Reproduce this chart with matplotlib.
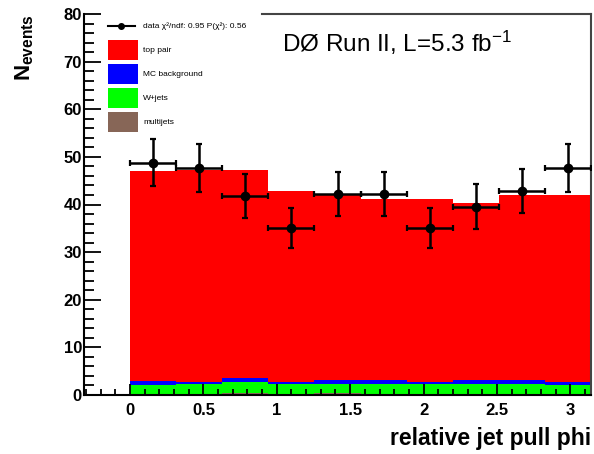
import numpy as np
import matplotlib
matplotlib.use("Agg")
import matplotlib.pyplot as plt
from matplotlib.ticker import MultipleLocator, FormatStrFormatter
from matplotlib.patches import Rectangle
from matplotlib.lines import Line2D

plt.rcParams['font.family'] = ['Liberation Sans', 'DejaVu Sans']
plt.rcParams['mathtext.fontset'] = 'custom'
plt.rcParams['mathtext.rm'] = 'Liberation Sans'
plt.rcParams['mathtext.bf'] = 'Liberation Sans:bold'
plt.rcParams['mathtext.it'] = 'Liberation Sans:italic'

# histogram binning: 10 bins in [0, pi]
n_bins = 10
x_lo, x_hi = 0.0, np.pi

# stacked MC (bottom to top)
multijets = [0.0, 0.0, 0.35, 0.0, 0.35, 0.0, 0.0, 0.0, 0.0, 0.0]
wjets = [2.0, 2.4, 2.45, 2.4, 2.05, 2.4, 2.4, 2.4, 2.4, 2.0]
mc_bkg = [0.85, 0.4, 0.85, 0.4, 0.85, 0.85, 0.4, 0.85, 0.85, 0.7]
top_pair = [44.15, 44.5, 43.65, 40.0, 38.85, 37.8, 38.25, 37.1, 38.7, 39.25]

# data
data_y = [48.8, 47.6, 41.8, 35.1, 42.2, 42.2, 35.1, 39.5, 42.8, 47.6]
data_err = [5.0, 5.0, 4.6, 4.2, 4.7, 4.7, 4.2, 4.7, 4.6, 5.0]

data_label = 'data \u03c7\u00b2/ndf: 0.95 P(\u03c7\u00b2): 0.56'
comp_labels = ['top pair', 'MC background', 'W+jets', 'multijets']
comp_colors = ['#ff0000', '#0000ff', '#00ff00', '#876657']

edges = np.linspace(x_lo, x_hi, n_bins + 1)
width = edges[1] - edges[0]
centers = edges[:-1] + width / 2

fig = plt.figure(figsize=(5.94, 4.54), dpi=100)
ax = fig.add_axes([84 / 594, 1 - 395 / 454, 507 / 594, 381 / 454])

bottom = np.zeros(n_bins)
for vals, col in zip([multijets, wjets, mc_bkg, top_pair],
                     ['#876657', '#00ff00', '#0000ff', '#ff0000']):
    ax.bar(edges[:-1], vals, width=width, bottom=bottom, align='edge',
           color=col, linewidth=0, zorder=1)
    bottom = bottom + np.array(vals)

ax.errorbar(centers, data_y, yerr=data_err, xerr=width / 2, fmt='o',
            color='black', ms=6, elinewidth=1.8, capsize=2.5, capthick=1.6,
            zorder=3)

ax.set_xlim(-np.pi / 10, np.pi)
ax.set_ylim(0, 80)

ax.xaxis.set_major_locator(MultipleLocator(0.5))
ax.xaxis.set_minor_locator(MultipleLocator(0.1))
ax.xaxis.set_major_formatter(FormatStrFormatter('%g'))
ax.yaxis.set_major_locator(MultipleLocator(10))
ax.yaxis.set_minor_locator(MultipleLocator(2))

ax.tick_params(which='both', direction='in', width=1.3, top=False, right=False)
ax.tick_params(axis='x', which='major', length=8, pad=5.5)
ax.tick_params(axis='x', which='minor', length=4.5)
ax.tick_params(axis='y', which='major', length=12, pad=1.5)
ax.tick_params(axis='y', which='minor', length=7)
for lab in ax.get_xticklabels() + ax.get_yticklabels():
    lab.set_fontweight('bold')
    lab.set_fontsize(12)

for s in ['left', 'bottom']:
    ax.spines[s].set_linewidth(1.5)
for s in ['top', 'right']:
    ax.spines[s].set_linewidth(1.5)
    ax.spines[s].set_color('#444444')
ax.spines['top'].set_bounds(0.9, np.pi)

ax.set_xlabel('relative jet pull phi', loc='right', fontsize=16.5,
              fontweight='bold', labelpad=7)
ax.set_ylabel(r'$\mathbf{N}_{\mathbf{events}}$', loc='top', fontsize=16)
ax.yaxis.set_label_coords(-0.095, 1.0)

ax.text(0.39, 0.9, 'D\u00d8 Run II, L=5.3 fb$^{-1}$', transform=ax.transAxes,
        fontsize=17.5, va='baseline')

# ROOT style legend, drawn by hand in axes fraction
lx0, lx1, ltext = 0.047, 0.106, 0.117
row_y0, row_step, box_h = 0.968, 0.063, 0.052
ax.add_line(Line2D([lx0, lx1 - 0.006], [row_y0, row_y0], color='black',
                   lw=1.5, transform=ax.transAxes, clip_on=False))
ax.add_line(Line2D([(lx0 + lx1 - 0.006) / 2], [row_y0], color='black',
                   marker='o', ms=4, transform=ax.transAxes, clip_on=False))
ax.text(ltext, row_y0, data_label, transform=ax.transAxes, fontsize=6,
        va='center')
for i, (lab, col) in enumerate(zip(comp_labels, comp_colors)):
    yc = row_y0 - row_step * (i + 1)
    ax.add_patch(Rectangle((lx0, yc - box_h / 2), lx1 - lx0, box_h,
                           facecolor=col, edgecolor='none',
                           transform=ax.transAxes, zorder=4))
    ax.text(ltext, yc, lab, transform=ax.transAxes, fontsize=6, va='center')

fig.savefig('out.png', dpi=100)
